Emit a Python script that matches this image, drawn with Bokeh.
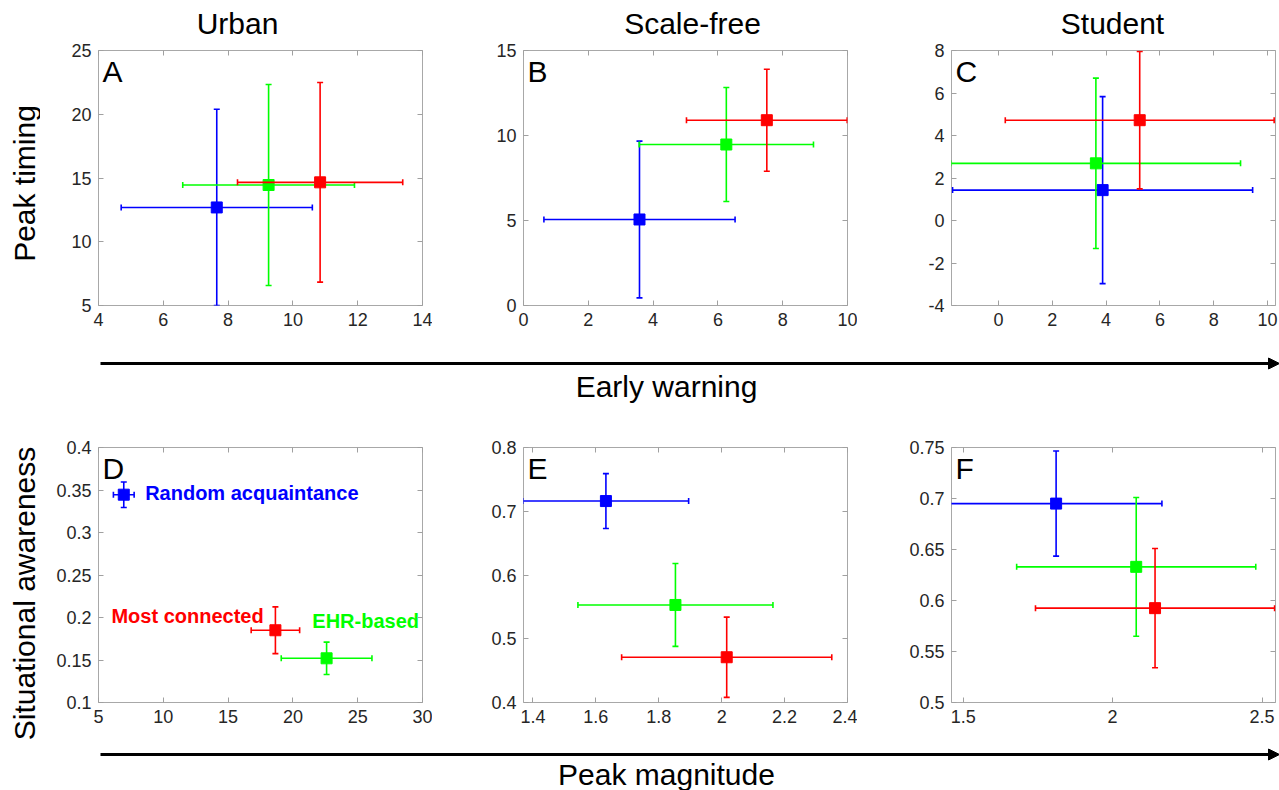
import math
from bokeh.plotting import figure
from bokeh.models import (Range1d, FixedTicker, LinearAxis, Label, Arrow,
                          NormalHead, ColumnDataSource)
from bokeh.layouts import row, column
from bokeh.embed import file_html
from bokeh.resources import INLINE
from bokeh.core.properties import value

FONT = "Liberation Sans"

# ---------------- data ----------------
series_names = ["Random acquaintance", "EHR-based", "Most connected"]
series_colors = ["#0000ff", "#00ff00", "#ff0000"]

# Panel A (Urban): early warning vs peak timing   [blue, green, red]
a_x = [7.65, 9.25, 10.84]
a_xerr = [2.95, 2.65, 2.55]
a_y = [12.69, 14.45, 14.66]
a_yerr = [7.70, 7.88, 7.83]

# Panel B (Scale-free)
b_x = [3.58, 6.26, 7.51]
b_xerr = [2.95, 2.69, 2.48]
b_y = [5.06, 9.47, 10.90]
b_yerr = [4.61, 3.35, 3.00]

# Panel C (Student)
c_x = [3.87, 3.62, 5.25]
c_xerr = [5.58, 5.38, 5.00]
c_y = [1.43, 2.69, 4.72]
c_yerr = [4.40, 4.01, 3.23]

# Panel D (Urban): peak magnitude vs situational awareness
d_x = [6.95, 22.60, 18.65]
d_xerr = [0.80, 3.50, 1.87]
d_y = [0.3445, 0.152, 0.185]
d_yerr = [0.015, 0.019, 0.0275]

# Panel E (Scale-free)
e_x = [1.632, 1.853, 2.016]
e_xerr = [0.263, 0.310, 0.334]
e_y = [0.716, 0.553, 0.471]
e_yerr = [0.043, 0.065, 0.063]

# Panel F (Student)
f_x = [1.811, 2.079, 2.142]
f_xerr = [0.354, 0.400, 0.400]
f_y = [0.695, 0.633, 0.5925]
f_yerr = [0.0515, 0.068, 0.0585]

# axis ranges and ticks
a_xrange, a_yrange = (4, 14), (5, 25)
a_xticks, a_yticks = [4, 6, 8, 10, 12, 14], [5, 10, 15, 20, 25]
b_xrange, b_yrange = (0, 10), (0, 15)
b_xticks, b_yticks = [0, 2, 4, 6, 8, 10], [0, 5, 10, 15]
c_xrange, c_yrange = (-1.75, 10.3), (-4, 8)
c_xticks, c_yticks = [0, 2, 4, 6, 8, 10], [-4, -2, 0, 2, 4, 6, 8]
d_xrange, d_yrange = (5, 30), (0.1, 0.4)
d_xticks, d_yticks = [5, 10, 15, 20, 25, 30], [0.1, 0.15, 0.2, 0.25, 0.3, 0.35, 0.4]
e_xrange, e_yrange = (1.37, 2.4), (0.4, 0.8)
e_xticks, e_yticks = [1.4, 1.6, 1.8, 2.0, 2.2, 2.4], [0.4, 0.5, 0.6, 0.7, 0.8]
f_xrange, f_yrange = (1.461, 2.545), (0.5, 0.75)
f_xticks, f_yticks = [1.5, 2.0, 2.5], [0.5, 0.55, 0.6, 0.65, 0.7, 0.75]

panel_letters = ["A", "B", "C", "D", "E", "F"]
column_titles = ["Urban", "Scale-free", "Student"]

# in-panel labels of panel D
d_label_x = [8.6, 6.0, 21.5]
d_label_y = [0.347, 0.202, 0.1955]
d_label_text = ["Random acquaintance", "Most connected", "EHR-based"]
d_label_color = ["#0000ff", "#ff0000", "#00ff00"]

# ---------------- layout constants ----------------
FRAME_W, FRAME_H = 324, 255
TICK_COLOR = "#a0a0a0"
LABEL_COLOR = "#262626"
BIG = "30px"


def fmt(v):
    return f"{v:g}"


def style_axis(ax, ticks, show_labels):
    ax.ticker = FixedTicker(ticks=ticks)
    ax.axis_line_color = None
    ax.major_tick_in = 5
    ax.major_tick_out = 0
    ax.major_tick_line_color = TICK_COLOR
    ax.minor_tick_line_color = None
    if show_labels:
        ax.major_label_text_font = FONT
        ax.major_label_text_font_size = "18px"
        ax.major_label_text_color = LABEL_COLOR
        ax.major_label_standoff = 7
        ax.major_label_overrides = {t: fmt(t) for t in ticks}
    else:
        # tick marks only: labels are not drawn at all
        ax.major_label_text_color = None
        ax.major_label_text_alpha = 0
        ax.major_label_text_font_size = "0px"
        ax.major_label_standoff = 0


def make_panel(xr, yr, xt, yt, xs, xe, ys, ye, letter, bl, br, bt, bb):
    p = figure(width=bl + FRAME_W + br, height=bt + FRAME_H + bb,
               x_range=Range1d(*xr), y_range=Range1d(*yr),
               min_border_left=bl, min_border_right=br,
               min_border_top=bt, min_border_bottom=bb,
               toolbar_location=None, tools="", output_backend="svg")
    p.xgrid.visible = False
    p.ygrid.visible = False
    p.outline_line_color = "#a8a8a8"
    p.outline_line_width = 1
    p.background_fill_color = "white"
    p.border_fill_color = "white"
    style_axis(p.xaxis[0], xt, True)
    style_axis(p.yaxis[0], yt, True)
    top = LinearAxis()
    style_axis(top, xt, False)
    p.add_layout(top, "above")
    right = LinearAxis()
    style_axis(right, yt, False)
    p.add_layout(right, "right")

    for i in range(len(xs)):
        col = series_colors[i]
        src = ColumnDataSource(dict(
            x=[xs[i]], y=[ys[i]],
            xl=[xs[i] - xe[i]], xh=[xs[i] + xe[i]],
            yl=[ys[i] - ye[i]], yh=[ys[i] + ye[i]]))
        p.segment(x0="xl", y0="y", x1="xh", y1="y", source=src,
                  line_color=col, line_width=1.6)
        p.segment(x0="x", y0="yl", x1="x", y1="yh", source=src,
                  line_color=col, line_width=1.6)
        for cx, cy, ang in (("xl", "y", math.pi / 2), ("xh", "y", math.pi / 2),
                            ("x", "yl", 0.0), ("x", "yh", 0.0)):
            p.scatter(x=cx, y=cy, source=src, marker="dash", angle=ang,
                      size=6, line_color=col, line_width=1.6)
        p.scatter(x="x", y="y", source=src, marker="square", size=11,
                  fill_color=col, line_color=col)

    p.add_layout(Label(x=xr[0], y=yr[1], x_offset=4, y_offset=-4, text=letter,
                       text_font=FONT, text_font_size=BIG,
                       text_color="black", text_baseline="top",
                       text_align="left"))
    return p


LEFT_W = 40
BL = [58, 91, 94]
BR = [10, 10, 4]
ROW1_T, ROW1_B = 10, 30
ROW2_T, ROW2_B = 42, 28
HEAD_H, ARR1_H, ARR2_H = 40, 70, 60

pA = make_panel(a_xrange, a_yrange, a_xticks, a_yticks, a_x, a_xerr, a_y, a_yerr,
                panel_letters[0], BL[0], BR[0], ROW1_T, ROW1_B)
pB = make_panel(b_xrange, b_yrange, b_xticks, b_yticks, b_x, b_xerr, b_y, b_yerr,
                panel_letters[1], BL[1], BR[1], ROW1_T, ROW1_B)
pC = make_panel(c_xrange, c_yrange, c_xticks, c_yticks, c_x, c_xerr, c_y, c_yerr,
                panel_letters[2], BL[2], BR[2], ROW1_T, ROW1_B)
pD = make_panel(d_xrange, d_yrange, d_xticks, d_yticks, d_x, d_xerr, d_y, d_yerr,
                panel_letters[3], BL[0], BR[0], ROW2_T, ROW2_B)
pE = make_panel(e_xrange, e_yrange, e_xticks, e_yticks, e_x, e_xerr, e_y, e_yerr,
                panel_letters[4], BL[1], BR[1], ROW2_T, ROW2_B)
pF = make_panel(f_xrange, f_yrange, f_xticks, f_yticks, f_x, f_xerr, f_y, f_yerr,
                panel_letters[5], BL[2], BR[2], ROW2_T, ROW2_B)

lab_src = ColumnDataSource(dict(x=d_label_x, y=d_label_y, text=d_label_text,
                                color=d_label_color))
pD.text(x="x", y="y", text="text", text_color="color", source=lab_src,
        text_font=value(FONT), text_font_style="bold", text_font_size="20px",
        text_baseline="middle", text_align="left")

COL_W = sum(BL) + sum(BR) + 3 * FRAME_W   # 1239


def blank(w, h):
    p = figure(width=w, height=h, x_range=Range1d(0, w), y_range=Range1d(0, h),
               min_border=0, x_axis_location=None, y_axis_location=None,
               toolbar_location=None, tools="", output_backend="svg")
    p.xgrid.visible = False
    p.ygrid.visible = False
    p.outline_line_color = None
    p.background_fill_color = "white"
    p.border_fill_color = "white"
    return p


def big_label(x, y, text, angle=0.0):
    return Label(x=x, y=y, text=text, angle=angle, text_font=FONT,
                 text_font_size=BIG, text_color="black",
                 text_align="center", text_baseline="middle")


# header with column titles (x in header coordinates)
header = blank(COL_W, HEAD_H)
title_cx = [197, 652, 1072]
for t, cx in zip(column_titles, title_cx):
    header.add_layout(big_label(cx, 17, t))

# arrows with their captions
head1 = NormalHead(size=11, fill_color="black", line_color="black")
arrow1 = blank(COL_W, ARR1_H)
arrow1.add_layout(Arrow(x_start=60, y_start=42, x_end=COL_W, y_end=42,
                        line_width=3, line_color="black", end=head1))
arrow1.add_layout(big_label(626, 19, "Early warning"))

head2 = NormalHead(size=11, fill_color="black", line_color="black")
arrow2 = blank(COL_W, ARR2_H)
arrow2.add_layout(Arrow(x_start=60, y_start=36, x_end=COL_W, y_end=36,
                        line_width=3, line_color="black", end=head2))
arrow2.add_layout(big_label(626, 16, "Peak magnitude"))

right_col = column(header, row(pA, pB, pC), arrow1, row(pD, pE, pF), arrow2)
TOTAL_H = (HEAD_H + ROW1_T + FRAME_H + ROW1_B + ARR1_H
           + ROW2_T + FRAME_H + ROW2_B + ARR2_H)   # 790

# left strip with the row labels
left = blank(LEFT_W, TOTAL_H)
left.add_layout(big_label(24, TOTAL_H - 183, "Peak timing", math.pi / 2))
left.add_layout(big_label(24, TOTAL_H - 593, "Situational awareness", math.pi / 2))

layout = row(left, right_col)

open("out.html", "w").write(file_html(layout, INLINE))
